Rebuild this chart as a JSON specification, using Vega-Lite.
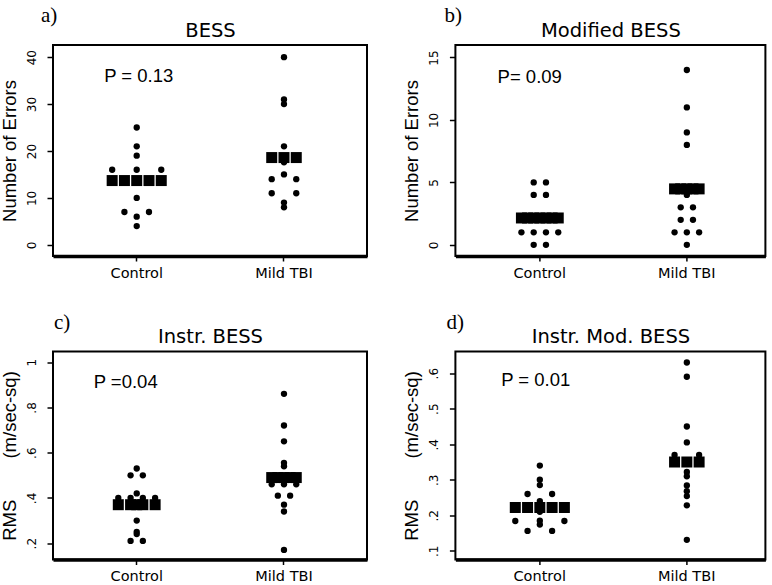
{
  "$schema": "https://vega.github.io/schema/vega-lite/v6.json",
  "padding": {"left": -1, "top": 4, "right": 0, "bottom": 0},
  "background": "white",
  "bounds": "flush",
  "spacing": 306.5,
  "config": {
    "view": {"stroke": "black", "strokeWidth": 2},
    "axis": {"grid": false, "domainColor": "black", "tickColor": "black", "labelColor": "black", "titleColor": "black", "titleFontWeight": "normal"}
  },
  "datasets": {
    "dots": [
      {"panel": "a", "group": "Control", "value": 25, "slot": 0},
      {"panel": "a", "group": "Control", "value": 21, "slot": 0},
      {"panel": "a", "group": "Control", "value": 19, "slot": 0},
      {"panel": "a", "group": "Control", "value": 16, "slot": -2},
      {"panel": "a", "group": "Control", "value": 16, "slot": 0},
      {"panel": "a", "group": "Control", "value": 16, "slot": 2},
      {"panel": "a", "group": "Control", "value": 10, "slot": 0},
      {"panel": "a", "group": "Control", "value": 7, "slot": -1},
      {"panel": "a", "group": "Control", "value": 7, "slot": 1},
      {"panel": "a", "group": "Control", "value": 6, "slot": 0},
      {"panel": "a", "group": "Control", "value": 4, "slot": 0},
      {"panel": "a", "group": "Mild TBI", "value": 40, "slot": 0},
      {"panel": "a", "group": "Mild TBI", "value": 31, "slot": 0},
      {"panel": "a", "group": "Mild TBI", "value": 30, "slot": 0},
      {"panel": "a", "group": "Mild TBI", "value": 21, "slot": 0},
      {"panel": "a", "group": "Mild TBI", "value": 17.6, "slot": 0},
      {"panel": "a", "group": "Mild TBI", "value": 15, "slot": 0},
      {"panel": "a", "group": "Mild TBI", "value": 14, "slot": -1},
      {"panel": "a", "group": "Mild TBI", "value": 14, "slot": 1},
      {"panel": "a", "group": "Mild TBI", "value": 11, "slot": -1},
      {"panel": "a", "group": "Mild TBI", "value": 11, "slot": 1},
      {"panel": "a", "group": "Mild TBI", "value": 9, "slot": 0},
      {"panel": "a", "group": "Mild TBI", "value": 8, "slot": 0},
      {"panel": "b", "group": "Control", "value": 5, "slot": -0.5},
      {"panel": "b", "group": "Control", "value": 5, "slot": 0.5},
      {"panel": "b", "group": "Control", "value": 4, "slot": -0.5},
      {"panel": "b", "group": "Control", "value": 4, "slot": 0.5},
      {"panel": "b", "group": "Control", "value": 1, "slot": -1.5},
      {"panel": "b", "group": "Control", "value": 1, "slot": -0.5},
      {"panel": "b", "group": "Control", "value": 1, "slot": 0.5},
      {"panel": "b", "group": "Control", "value": 1, "slot": 1.5},
      {"panel": "b", "group": "Control", "value": 0, "slot": -0.5},
      {"panel": "b", "group": "Control", "value": 0, "slot": 0.5},
      {"panel": "b", "group": "Mild TBI", "value": 14, "slot": 0},
      {"panel": "b", "group": "Mild TBI", "value": 11, "slot": 0},
      {"panel": "b", "group": "Mild TBI", "value": 9, "slot": 0},
      {"panel": "b", "group": "Mild TBI", "value": 8, "slot": 0},
      {"panel": "b", "group": "Mild TBI", "value": 4, "slot": 0},
      {"panel": "b", "group": "Mild TBI", "value": 3, "slot": -0.5},
      {"panel": "b", "group": "Mild TBI", "value": 3, "slot": 0.5},
      {"panel": "b", "group": "Mild TBI", "value": 2, "slot": -0.5},
      {"panel": "b", "group": "Mild TBI", "value": 2, "slot": 0.5},
      {"panel": "b", "group": "Mild TBI", "value": 1, "slot": -1},
      {"panel": "b", "group": "Mild TBI", "value": 1, "slot": 0},
      {"panel": "b", "group": "Mild TBI", "value": 1, "slot": 1},
      {"panel": "b", "group": "Mild TBI", "value": 0, "slot": 0},
      {"panel": "c", "group": "Control", "value": 0.53, "slot": 0},
      {"panel": "c", "group": "Control", "value": 0.50, "slot": -0.5},
      {"panel": "c", "group": "Control", "value": 0.50, "slot": 0.5},
      {"panel": "c", "group": "Control", "value": 0.42, "slot": 0},
      {"panel": "c", "group": "Control", "value": 0.40, "slot": -1.5},
      {"panel": "c", "group": "Control", "value": 0.40, "slot": -0.5},
      {"panel": "c", "group": "Control", "value": 0.40, "slot": 0.5},
      {"panel": "c", "group": "Control", "value": 0.40, "slot": 1.5},
      {"panel": "c", "group": "Control", "value": 0.30, "slot": 0},
      {"panel": "c", "group": "Control", "value": 0.25, "slot": 0},
      {"panel": "c", "group": "Control", "value": 0.24, "slot": 0},
      {"panel": "c", "group": "Control", "value": 0.21, "slot": -0.5},
      {"panel": "c", "group": "Control", "value": 0.21, "slot": 0.5},
      {"panel": "c", "group": "Mild TBI", "value": 0.86, "slot": 0},
      {"panel": "c", "group": "Mild TBI", "value": 0.72, "slot": 0},
      {"panel": "c", "group": "Mild TBI", "value": 0.65, "slot": 0},
      {"panel": "c", "group": "Mild TBI", "value": 0.555, "slot": 0},
      {"panel": "c", "group": "Mild TBI", "value": 0.54, "slot": 0},
      {"panel": "c", "group": "Mild TBI", "value": 0.46, "slot": -1},
      {"panel": "c", "group": "Mild TBI", "value": 0.46, "slot": 0},
      {"panel": "c", "group": "Mild TBI", "value": 0.46, "slot": 1},
      {"panel": "c", "group": "Mild TBI", "value": 0.41, "slot": -0.5},
      {"panel": "c", "group": "Mild TBI", "value": 0.41, "slot": 0.5},
      {"panel": "c", "group": "Mild TBI", "value": 0.37, "slot": 0},
      {"panel": "c", "group": "Mild TBI", "value": 0.34, "slot": 0},
      {"panel": "c", "group": "Mild TBI", "value": 0.17, "slot": 0},
      {"panel": "d", "group": "Control", "value": 0.34, "slot": 0},
      {"panel": "d", "group": "Control", "value": 0.30, "slot": 0},
      {"panel": "d", "group": "Control", "value": 0.285, "slot": 0},
      {"panel": "d", "group": "Control", "value": 0.26, "slot": -1},
      {"panel": "d", "group": "Control", "value": 0.26, "slot": 1},
      {"panel": "d", "group": "Control", "value": 0.24, "slot": 0},
      {"panel": "d", "group": "Control", "value": 0.21, "slot": 0},
      {"panel": "d", "group": "Control", "value": 0.184, "slot": -2},
      {"panel": "d", "group": "Control", "value": 0.184, "slot": 2},
      {"panel": "d", "group": "Control", "value": 0.185, "slot": 0},
      {"panel": "d", "group": "Control", "value": 0.174, "slot": 0},
      {"panel": "d", "group": "Control", "value": 0.156, "slot": -1},
      {"panel": "d", "group": "Control", "value": 0.156, "slot": 1},
      {"panel": "d", "group": "Mild TBI", "value": 0.63, "slot": 0},
      {"panel": "d", "group": "Mild TBI", "value": 0.59, "slot": 0},
      {"panel": "d", "group": "Mild TBI", "value": 0.45, "slot": 0},
      {"panel": "d", "group": "Mild TBI", "value": 0.405, "slot": 0},
      {"panel": "d", "group": "Mild TBI", "value": 0.37, "slot": -1},
      {"panel": "d", "group": "Mild TBI", "value": 0.37, "slot": 1},
      {"panel": "d", "group": "Mild TBI", "value": 0.322, "slot": 0},
      {"panel": "d", "group": "Mild TBI", "value": 0.31, "slot": 0},
      {"panel": "d", "group": "Mild TBI", "value": 0.284, "slot": 0},
      {"panel": "d", "group": "Mild TBI", "value": 0.268, "slot": 0},
      {"panel": "d", "group": "Mild TBI", "value": 0.254, "slot": 0},
      {"panel": "d", "group": "Mild TBI", "value": 0.228, "slot": 0},
      {"panel": "d", "group": "Mild TBI", "value": 0.131, "slot": 0}
    ],
    "means": [
      {"panel": "a", "group": "Control", "mean": 13.7, "slot": -2},
      {"panel": "a", "group": "Control", "mean": 13.7, "slot": -1},
      {"panel": "a", "group": "Control", "mean": 13.7, "slot": 0},
      {"panel": "a", "group": "Control", "mean": 13.7, "slot": 1},
      {"panel": "a", "group": "Control", "mean": 13.7, "slot": 2},
      {"panel": "a", "group": "Mild TBI", "mean": 18.6, "slot": -1},
      {"panel": "a", "group": "Mild TBI", "mean": 18.6, "slot": 0},
      {"panel": "a", "group": "Mild TBI", "mean": 18.6, "slot": 1},
      {"panel": "b", "group": "Control", "mean": 2.15, "slot": -1.5},
      {"panel": "b", "group": "Control", "mean": 2.15, "slot": -1},
      {"panel": "b", "group": "Control", "mean": 2.15, "slot": -0.5},
      {"panel": "b", "group": "Control", "mean": 2.15, "slot": 0},
      {"panel": "b", "group": "Control", "mean": 2.15, "slot": 0.5},
      {"panel": "b", "group": "Control", "mean": 2.15, "slot": 1},
      {"panel": "b", "group": "Control", "mean": 2.15, "slot": 1.5},
      {"panel": "b", "group": "Mild TBI", "mean": 4.48, "slot": -1},
      {"panel": "b", "group": "Mild TBI", "mean": 4.48, "slot": -0.5},
      {"panel": "b", "group": "Mild TBI", "mean": 4.48, "slot": 0},
      {"panel": "b", "group": "Mild TBI", "mean": 4.48, "slot": 0.5},
      {"panel": "b", "group": "Mild TBI", "mean": 4.48, "slot": 1},
      {"panel": "c", "group": "Control", "mean": 0.37, "slot": -1.5},
      {"panel": "c", "group": "Control", "mean": 0.37, "slot": -0.5},
      {"panel": "c", "group": "Control", "mean": 0.37, "slot": 0},
      {"panel": "c", "group": "Control", "mean": 0.37, "slot": 0.5},
      {"panel": "c", "group": "Control", "mean": 0.37, "slot": 1.5},
      {"panel": "c", "group": "Mild TBI", "mean": 0.49, "slot": -1},
      {"panel": "c", "group": "Mild TBI", "mean": 0.49, "slot": -0.5},
      {"panel": "c", "group": "Mild TBI", "mean": 0.49, "slot": 0},
      {"panel": "c", "group": "Mild TBI", "mean": 0.49, "slot": 0.5},
      {"panel": "c", "group": "Mild TBI", "mean": 0.49, "slot": 1},
      {"panel": "d", "group": "Control", "mean": 0.222, "slot": -2},
      {"panel": "d", "group": "Control", "mean": 0.222, "slot": -1},
      {"panel": "d", "group": "Control", "mean": 0.222, "slot": 0},
      {"panel": "d", "group": "Control", "mean": 0.222, "slot": 1},
      {"panel": "d", "group": "Control", "mean": 0.222, "slot": 2},
      {"panel": "d", "group": "Mild TBI", "mean": 0.35, "slot": -1},
      {"panel": "d", "group": "Mild TBI", "mean": 0.35, "slot": 0},
      {"panel": "d", "group": "Mild TBI", "mean": 0.35, "slot": 1}
    ],
    "notes": [
      {"panel": "a", "label": "P = 0.13"},
      {"panel": "b", "label": "P= 0.09"},
      {"panel": "c", "label": "P =0.04"},
      {"panel": "d", "label": "P = 0.01"}
    ]
  },
  "vconcat": [
    {
      "bounds": "flush",
      "spacing": 88.4,
      "hconcat": [
        {
          "width": 314, "height": 211,
          "title": {"text": "a)", "anchor": "start", "frame": "group", "dx": -12, "offset": -23, "font": "Liberation Serif", "fontSize": 21, "fontWeight": "normal", "baseline": "alphabetic", "color": "black"},
          "layer": [
            {
              "data": {"name": "dots"},
              "transform": [{"filter": "datum.panel === 'a'"}],
              "mark": {"type": "point", "shape": "circle", "filled": true, "size": 40, "color": "black", "opacity": 1},
              "encoding": {
                "x": {"field": "group", "type": "nominal", "scale": {"type": "band", "domain": ["Control", "Mild TBI"], "paddingInner": 0, "paddingOuter": 0.066, "align": 0.518},
                      "axis": {"orient": "bottom", "title": null, "labelAngle": 0, "labelFont": "DejaVu Sans", "labelFontSize": 14.5, "labelPadding": 5, "tickSize": 5, "tickWidth": 1.5, "domainWidth": 3.5}},
                "xOffset": {"field": "slot", "type": "quantitative", "scale": {"domain": [-6, 6]}},
                "y": {"field": "value", "type": "quantitative", "scale": {"domain": [-2.38, 42.59], "nice": false, "zero": false},
                      "axis": {"orient": "left", "title": "Number of Errors", "values": [0, 10, 20, 30, 40], "labelAngle": 270, "labelAlign": "center", "labelBaseline": "alphabetic", "labelFont": "DejaVu Sans", "labelFontSize": 12, "labelPadding": 12, "tickSize": 6, "tickWidth": 1.5, "domain": false, "titleFont": "Liberation Sans", "titleFontSize": 18.5, "titlePadding": 6}}
              }
            },
            {
              "data": {"name": "means"},
              "transform": [{"filter": "datum.panel === 'a'"}],
              "mark": {"type": "point", "shape": "square", "filled": true, "size": 121, "color": "black", "opacity": 1},
              "encoding": {
                "x": {"field": "group", "type": "nominal", "scale": {"type": "band", "domain": ["Control", "Mild TBI"], "paddingInner": 0, "paddingOuter": 0.066, "align": 0.518},
                      "axis": {"orient": "top", "title": "BESS", "labels": false, "ticks": false, "domain": false, "titleFont": "DejaVu Sans", "titleFontSize": 19.5, "titlePadding": 9, "titleBaseline": "alphabetic", "minExtent": 0}},
                "xOffset": {"field": "slot", "type": "quantitative", "scale": {"domain": [-6, 6]}},
                "y": {"field": "mean", "type": "quantitative", "scale": {"domain": [-2.38, 42.59], "nice": false, "zero": false}}
              }
            },
            {
              "data": {"name": "notes"},
              "transform": [{"filter": "datum.panel === 'a'"}],
              "mark": {"type": "text", "font": "Liberation Sans", "fontSize": 18.5, "align": "center", "baseline": "alphabetic", "dx": 2, "color": "black"},
              "encoding": {
                "x": {"datum": "Control", "type": "nominal", "axis": null},
                "y": {"datum": 34.8, "type": "quantitative"},
                "text": {"field": "label"}
              }
            }
          ]
        },
        {
          "width": 310, "height": 211,
          "title": {"text": "b)", "anchor": "start", "frame": "group", "dx": -11, "offset": -23, "font": "Liberation Serif", "fontSize": 21, "fontWeight": "normal", "baseline": "alphabetic", "color": "black"},
          "layer": [
            {
              "data": {"name": "dots"},
              "transform": [{"filter": "datum.panel === 'b'"}],
              "mark": {"type": "point", "shape": "circle", "filled": true, "size": 40, "color": "black", "opacity": 1},
              "encoding": {
                "x": {"field": "group", "type": "nominal", "scale": {"type": "band", "domain": ["Control", "Mild TBI"], "paddingInner": 0, "paddingOuter": 0.0544, "align": 0.675},
                      "axis": {"orient": "bottom", "title": null, "labelAngle": 0, "labelFont": "DejaVu Sans", "labelFontSize": 14.5, "labelPadding": 5, "tickSize": 5, "tickWidth": 1.5, "domainWidth": 3.5}},
                "xOffset": {"field": "slot", "type": "quantitative", "scale": {"domain": [-3.93, 3.93]}},
                "y": {"field": "value", "type": "quantitative", "scale": {"domain": [-0.894, 16.0], "nice": false, "zero": false},
                      "axis": {"orient": "left", "title": "Number of Errors", "values": [0, 5, 10, 15], "labelAngle": 270, "labelAlign": "center", "labelBaseline": "alphabetic", "labelFont": "DejaVu Sans", "labelFontSize": 12, "labelPadding": 12, "tickSize": 6, "tickWidth": 1.5, "domain": false, "titleFont": "Liberation Sans", "titleFontSize": 18.5, "titlePadding": 6}}
              }
            },
            {
              "data": {"name": "means"},
              "transform": [{"filter": "datum.panel === 'b'"}],
              "mark": {"type": "point", "shape": "square", "filled": true, "size": 121, "color": "black", "opacity": 1},
              "encoding": {
                "x": {"field": "group", "type": "nominal", "scale": {"type": "band", "domain": ["Control", "Mild TBI"], "paddingInner": 0, "paddingOuter": 0.0544, "align": 0.675},
                      "axis": {"orient": "top", "title": "Modified BESS", "labels": false, "ticks": false, "domain": false, "titleFont": "DejaVu Sans", "titleFontSize": 19.5, "titlePadding": 9, "titleBaseline": "alphabetic", "minExtent": 0}},
                "xOffset": {"field": "slot", "type": "quantitative", "scale": {"domain": [-3.93, 3.93]}},
                "y": {"field": "mean", "type": "quantitative", "scale": {"domain": [-0.894, 16.0], "nice": false, "zero": false}}
              }
            },
            {
              "data": {"name": "notes"},
              "transform": [{"filter": "datum.panel === 'b'"}],
              "mark": {"type": "text", "font": "Liberation Sans", "fontSize": 18.5, "align": "center", "baseline": "alphabetic", "dx": -10, "color": "black"},
              "encoding": {
                "x": {"datum": "Control", "type": "nominal", "axis": null},
                "y": {"datum": 12.94, "type": "quantitative"},
                "text": {"field": "label"}
              }
            }
          ]
        }
      ]
    },
    {
      "bounds": "flush",
      "spacing": 88.4,
      "hconcat": [
        {
          "width": 314, "height": 208,
          "title": {"text": "c)", "anchor": "start", "frame": "group", "dx": 1, "offset": -23, "font": "Liberation Serif", "fontSize": 21, "fontWeight": "normal", "baseline": "alphabetic", "color": "black"},
          "layer": [
            {
              "data": {"name": "dots"},
              "transform": [{"filter": "datum.panel === 'c'"}],
              "mark": {"type": "point", "shape": "circle", "filled": true, "size": 40, "color": "black", "opacity": 1},
              "encoding": {
                "x": {"field": "group", "type": "nominal", "scale": {"type": "band", "domain": ["Control", "Mild TBI"], "paddingInner": 0, "paddingOuter": 0.066, "align": 0.518},
                      "axis": {"orient": "bottom", "title": null, "labelAngle": 0, "labelFont": "DejaVu Sans", "labelFontSize": 14.5, "labelPadding": 5, "tickSize": 5, "tickWidth": 1.5, "domainWidth": 3.5}},
                "xOffset": {"field": "slot", "type": "quantitative", "scale": {"domain": [-3.88, 3.88]}},
                "y": {"field": "value", "type": "quantitative", "scale": {"domain": [0.1278, 1.0472], "nice": false, "zero": false},
                      "axis": {"orient": "left", "title": "RMS\u00a0\u00a0\u00a0\u00a0\u00a0\u00a0\u00a0\u00a0(m/sec-sq)", "values": [0.2, 0.4, 0.6, 0.8, 1], "format": "~g", "labelExpr": "replace(datum.label, '0.', '.')", "labelAngle": 270, "labelAlign": "center", "labelBaseline": "alphabetic", "labelFont": "DejaVu Sans", "labelFontSize": 12, "labelPadding": 12, "tickSize": 6, "tickWidth": 1.5, "domain": false, "titleFont": "Liberation Sans", "titleFontSize": 18.5, "titlePadding": 6}}
              }
            },
            {
              "data": {"name": "means"},
              "transform": [{"filter": "datum.panel === 'c'"}],
              "mark": {"type": "point", "shape": "square", "filled": true, "size": 121, "color": "black", "opacity": 1},
              "encoding": {
                "x": {"field": "group", "type": "nominal", "scale": {"type": "band", "domain": ["Control", "Mild TBI"], "paddingInner": 0, "paddingOuter": 0.066, "align": 0.518},
                      "axis": {"orient": "top", "title": "Instr. BESS", "labels": false, "ticks": false, "domain": false, "titleFont": "DejaVu Sans", "titleFontSize": 19.5, "titlePadding": 9, "titleBaseline": "alphabetic", "minExtent": 0}},
                "xOffset": {"field": "slot", "type": "quantitative", "scale": {"domain": [-3.88, 3.88]}},
                "y": {"field": "mean", "type": "quantitative", "scale": {"domain": [0.1278, 1.0472], "nice": false, "zero": false}}
              }
            },
            {
              "data": {"name": "notes"},
              "transform": [{"filter": "datum.panel === 'c'"}],
              "mark": {"type": "text", "font": "Liberation Sans", "fontSize": 18.5, "align": "center", "baseline": "alphabetic", "dx": -11, "color": "black"},
              "encoding": {
                "x": {"datum": "Control", "type": "nominal", "axis": null},
                "y": {"datum": 0.885, "type": "quantitative"},
                "text": {"field": "label"}
              }
            }
          ]
        },
        {
          "width": 310, "height": 208,
          "title": {"text": "d)", "anchor": "start", "frame": "group", "dx": -9, "offset": -23, "font": "Liberation Serif", "fontSize": 21, "fontWeight": "normal", "baseline": "alphabetic", "color": "black"},
          "layer": [
            {
              "data": {"name": "dots"},
              "transform": [{"filter": "datum.panel === 'd'"}],
              "mark": {"type": "point", "shape": "circle", "filled": true, "size": 40, "color": "black", "opacity": 1},
              "encoding": {
                "x": {"field": "group", "type": "nominal", "scale": {"type": "band", "domain": ["Control", "Mild TBI"], "paddingInner": 0, "paddingOuter": 0.0544, "align": 0.675},
                      "axis": {"orient": "bottom", "title": null, "labelAngle": 0, "labelFont": "DejaVu Sans", "labelFontSize": 14.5, "labelPadding": 5, "tickSize": 5, "tickWidth": 1.5, "domainWidth": 3.5}},
                "xOffset": {"field": "slot", "type": "quantitative", "scale": {"domain": [-6, 6]}},
                "y": {"field": "value", "type": "quantitative", "scale": {"domain": [0.0756, 0.661], "nice": false, "zero": false},
                      "axis": {"orient": "left", "title": "RMS\u00a0\u00a0\u00a0\u00a0\u00a0\u00a0\u00a0\u00a0(m/sec-sq)", "values": [0.1, 0.2, 0.3, 0.4, 0.5, 0.6], "format": "~g", "labelExpr": "replace(datum.label, '0.', '.')", "labelAngle": 270, "labelAlign": "center", "labelBaseline": "alphabetic", "labelFont": "DejaVu Sans", "labelFontSize": 12, "labelPadding": 12, "tickSize": 6, "tickWidth": 1.5, "domain": false, "titleFont": "Liberation Sans", "titleFontSize": 18.5, "titlePadding": 6}}
              }
            },
            {
              "data": {"name": "means"},
              "transform": [{"filter": "datum.panel === 'd'"}],
              "mark": {"type": "point", "shape": "square", "filled": true, "size": 121, "color": "black", "opacity": 1},
              "encoding": {
                "x": {"field": "group", "type": "nominal", "scale": {"type": "band", "domain": ["Control", "Mild TBI"], "paddingInner": 0, "paddingOuter": 0.0544, "align": 0.675},
                      "axis": {"orient": "top", "title": "Instr. Mod. BESS", "labels": false, "ticks": false, "domain": false, "titleFont": "DejaVu Sans", "titleFontSize": 19.5, "titlePadding": 9, "titleBaseline": "alphabetic", "minExtent": 0}},
                "xOffset": {"field": "slot", "type": "quantitative", "scale": {"domain": [-6, 6]}},
                "y": {"field": "mean", "type": "quantitative", "scale": {"domain": [0.0756, 0.661], "nice": false, "zero": false}}
              }
            },
            {
              "data": {"name": "notes"},
              "transform": [{"filter": "datum.panel === 'd'"}],
              "mark": {"type": "text", "font": "Liberation Sans", "fontSize": 18.5, "align": "center", "baseline": "alphabetic", "dx": -4, "color": "black"},
              "encoding": {
                "x": {"datum": "Control", "type": "nominal", "axis": null},
                "y": {"datum": 0.5625, "type": "quantitative"},
                "text": {"field": "label"}
              }
            }
          ]
        }
      ]
    }
  ]
}
